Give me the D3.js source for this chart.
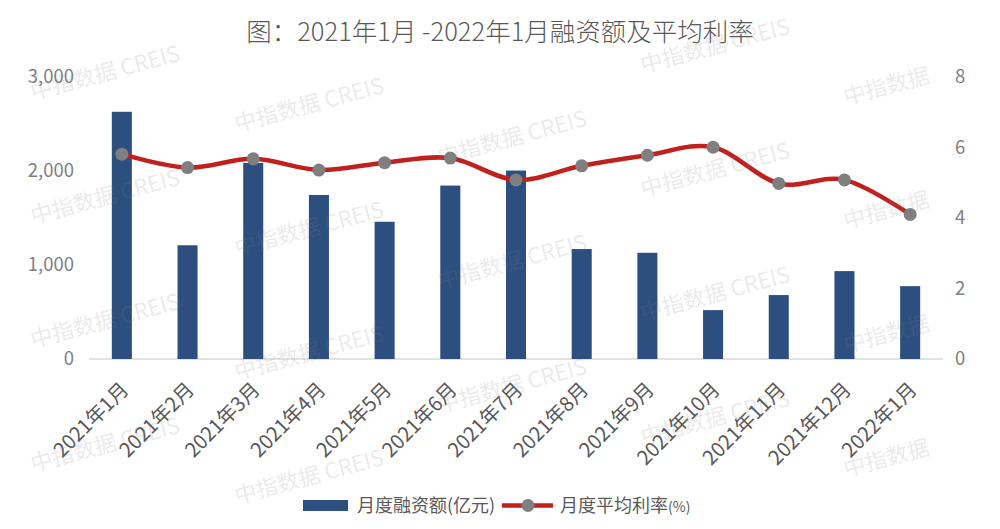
<!DOCTYPE html>
<html><head><meta charset="utf-8">
<script src="https://cdn.jsdelivr.net/npm/d3@7"></script>
<style>body{margin:0;background:#fff;} svg{display:block;}</style>
</head><body>
<script>
const categories = ["2021年1月","2021年2月","2021年3月","2021年4月","2021年5月","2021年6月","2021年7月","2021年8月","2021年9月","2021年10月","2021年11月","2021年12月","2022年1月"];
const financing = [2630, 1210, 2085, 1745, 1460, 1845, 2005, 1170, 1130, 520, 680, 935, 775];
const rates = [5.81, 5.43, 5.68, 5.36, 5.57, 5.70, 5.08, 5.48, 5.78, 6.01, 4.98, 5.08, 4.10];
const leftTicks = [0, 1000, 2000, 3000];
const rightTicks = [0, 2, 4, 6, 8];
const titleText = "图：2021年1月 -2022年1月融资额及平均利率";
const legendBar = "月度融资额(亿元)";
const legendLine = "月度平均利率";

const W = 1000, H = 529;
const font = "'Noto Sans CJK SC', 'Noto Sans', sans-serif";
const svg = d3.select("body").append("svg").attr("width", W).attr("height", H);

const x = d3.scaleBand().domain(categories).range([89, 943]).paddingInner(0.695).paddingOuter(0.3475);
const yL = d3.scaleLinear().domain([0, 3000]).range([359, 77]);
const yR = d3.scaleLinear().domain([0, 8]).range([359, 77]);

// title
svg.append("text").attr("x", 500).attr("y", 41).attr("text-anchor", "middle")
  .attr("font-family", font).attr("font-size", 25.5).attr("font-weight", 300).attr("fill", "#595959").text(titleText);

// baseline
svg.append("line").attr("x1", 89).attr("x2", 943).attr("y1", yL(0)).attr("y2", yL(0))
  .attr("stroke", "#d9d9d9").attr("stroke-width", 1.5);

// left axis
const axL = d3.axisLeft(yL).tickValues(leftTicks).tickFormat(d3.format(",")).tickSize(0).tickPadding(0);
const gL = svg.append("g").attr("transform", "translate(74,0)").call(axL);
gL.select(".domain").remove();
gL.selectAll("text").attr("font-family", font).attr("font-size", 18.5).attr("fill", "#7f7f7f");

// right axis
const axR = d3.axisRight(yR).tickValues(rightTicks).tickSize(0).tickPadding(0);
const gR = svg.append("g").attr("transform", "translate(955,0)").call(axR);
gR.select(".domain").remove();
gR.selectAll("text").attr("font-family", font).attr("font-size", 18.5).attr("fill", "#7f7f7f");

// bars
svg.append("g").selectAll("rect").data(financing).join("rect")
  .attr("x", (d, i) => x(categories[i]))
  .attr("width", x.bandwidth())
  .attr("y", d => yL(d))
  .attr("height", d => yL(0) - yL(d))
  .attr("fill", "#2c4f7f");

// line
const cx = i => x(categories[i]) + x.bandwidth() / 2;
const line = d3.line().x((d, i) => cx(i)).y(d => yR(d)).curve(d3.curveCatmullRom.alpha(0));
svg.append("path").datum(rates).attr("d", line).attr("fill", "none")
  .attr("stroke", "#c0201e").attr("stroke-width", 4.5);
svg.append("g").selectAll("circle").data(rates).join("circle")
  .attr("cx", (d, i) => cx(i)).attr("cy", d => yR(d)).attr("r", 6.5).attr("fill", "#7f7f7f");

// x labels
svg.append("g").selectAll("text").data(categories).join("text")
  .attr("transform", (d, i) => `translate(${cx(i) + 3},${386}) rotate(-45)`)
  .attr("text-anchor", "end").attr("dy", "0.35em")
  .attr("font-family", font).attr("font-size", 20).attr("fill", "#595959").text(d => d);

// legend
const lg = svg.append("g").attr("font-family", font).attr("font-size", 18).attr("fill", "#595959");
lg.append("rect").attr("x", 303).attr("y", 500).attr("width", 45).attr("height", 11).attr("fill", "#2c4f7f");
lg.append("text").attr("x", 357).attr("y", 512).text(legendBar);
lg.append("line").attr("x1", 502).attr("x2", 553).attr("y1", 505.5).attr("y2", 505.5)
  .attr("stroke", "#c0201e").attr("stroke-width", 4.5);
lg.append("circle").attr("cx", 528).attr("cy", 505.5).attr("r", 6.5).attr("fill", "#7f7f7f");
const t2 = lg.append("text").attr("x", 560).attr("y", 512);
t2.append("tspan").text(legendLine);
t2.append("tspan").attr("font-size", 14).text("(%)");

// watermarks
const wm = svg.append("g").attr("font-family", font).attr("font-size", 22)
  .attr("fill", "#808080").attr("fill-opacity", 0.18);
const colX = [33, 237, 440, 643, 846];
const rowY0 = [100, 132, 165, 197, 229];
for (let c = 0; c < 5; c++) {
  for (let r = -1; r < 4; r++) {
    const yy = rowY0[c] + r * 124;
    if (yy < 60 || yy > 520) continue;
    wm.append("text").attr("transform", `translate(${colX[c]},${yy}) rotate(-15)`)
      .text(c === 4 ? "中指数据" : "中指数据  CREIS");
  }
}
</script>
</body></html>
